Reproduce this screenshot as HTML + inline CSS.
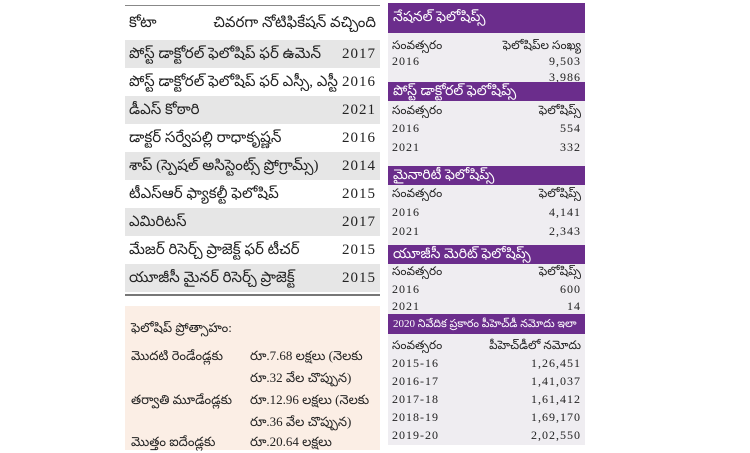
<!DOCTYPE html>
<html><head><meta charset="utf-8"><style>
body{margin:0;width:750px;height:450px;background:#fff;position:relative;overflow:hidden;font-family:"Liberation Serif","Noto Sans CJK SC",serif;color:#222}
.a{position:absolute}
.row{position:absolute;left:125px;width:255px;height:28px;font-size:15px;line-height:28px}
.row span{position:absolute;left:4px}
.row b{position:absolute;right:4px;font-weight:normal;letter-spacing:1px}
.g{background:#e6e6e6}
.rp{position:absolute;left:388px;width:197px;top:3px;height:442px;background:#efedf1}
.h{position:absolute;left:388px;width:197px;background:#6b2d8c;color:#fff;font-size:14px;padding-left:5px;box-sizing:border-box}
.r{position:absolute;left:392px;width:189px;font-size:12px;height:18px;line-height:18px}
.r span{position:absolute;left:0;letter-spacing:1px}
.r b{position:absolute;right:0;font-weight:normal;letter-spacing:1px}
</style></head><body>
<div class="a" style="left:125px;top:5px;width:255px;border-top:1px solid #888"></div>
<div class="row" style="top:6px;height:34px;line-height:34px"><span>కోటా</span><b style="letter-spacing:0">చివరగా నోటిఫికేషన్ వచ్చింది</b></div>
<div class="row g" style="top:40px"><span>పోస్ట్ డాక్టోరల్ ఫెలోషిప్ ఫర్ ఉమెన్</span><b>2017</b></div>
<div class="row" style="top:68px"><span>పోస్ట్ డాక్టోరల్ ఫెలోషిప్ ఫర్ ఎస్సీ, ఎస్టీ</span><b>2016</b></div>
<div class="row g" style="top:96px"><span>డీఎస్ కోఠారి</span><b>2021</b></div>
<div class="row" style="top:124px"><span>డాక్టర్ సర్వేపల్లి రాధాకృష్ణన్</span><b>2016</b></div>
<div class="row g" style="top:152px"><span>శాప్ (స్పెషల్ అసిస్టెంట్స్ ప్రోగ్రామ్స్)</span><b>2014</b></div>
<div class="row" style="top:180px"><span>టీఎస్ఆర్ ఫ్యాకల్టీ ఫెలోషిప్</span><b>2015</b></div>
<div class="row g" style="top:208px"><span>ఎమిరిటస్</span><b>2017</b></div>
<div class="row" style="top:236px"><span>మేజర్ రిసెర్చ్ ప్రాజెక్ట్ ఫర్ టీచర్</span><b>2015</b></div>
<div class="row g" style="top:264px"><span>యూజీసీ మైనర్ రిసెర్చ్ ప్రాజెక్ట్</span><b>2015</b></div>
<div class="a" style="left:125px;top:294px;width:255px;border-top:2px solid #777"></div>
<div class="a" style="left:125px;top:306px;width:255px;height:144px;background:#fbeee5;font-size:13px">
<div class="a" style="left:6px;top:14px">ఫెలోషిప్ ప్రోత్సాహం:</div>
<div class="a" style="left:6px;top:42px">మొదటి రెండేండ్లకు</div>
<div class="a" style="left:125px;top:42px">రూ.7.68 లక్షలు (నెలకు</div>
<div class="a" style="left:125px;top:64px">రూ.32 వేల చొప్పున)</div>
<div class="a" style="left:6px;top:86px">తర్వాతి మూడేండ్లకు</div>
<div class="a" style="left:125px;top:86px">రూ.12.96 లక్షలు (నెలకు</div>
<div class="a" style="left:125px;top:108px">రూ.36 వేల చొప్పున)</div>
<div class="a" style="left:6px;top:128px">మొత్తం ఐదేండ్లకు</div>
<div class="a" style="left:125px;top:128px">రూ.20.64 లక్షలు</div>
</div>
<div class="rp"></div>
<div class="h" style="top:3px;height:30px;line-height:30px">నేషనల్ ఫెలోషిప్స్</div>
<div class="r" style="top:36px"><span style="letter-spacing:0">సంవత్సరం</span><b style="letter-spacing:0">ఫెలోషిప్‌ల సంఖ్య</b></div>
<div class="r" style="top:52px"><span>2016</span><b>9,503</b></div>
<div class="r" style="top:68px"><b>3,986</b></div>
<div class="h" style="top:82px;height:19px;line-height:19px">పోస్ట్ డాక్టోరల్ ఫెలోషిప్స్</div>
<div class="r" style="top:101px"><span style="letter-spacing:0">సంవత్సరం</span><b style="letter-spacing:0">ఫెలోషిప్స్</b></div>
<div class="r" style="top:119px"><span>2016</span><b>554</b></div>
<div class="r" style="top:138px"><span>2021</span><b>332</b></div>
<div class="h" style="top:166px;height:19px;line-height:19px">మైనారిటీ ఫెలోషిప్స్</div>
<div class="r" style="top:184px"><span style="letter-spacing:0">సంవత్సరం</span><b style="letter-spacing:0">ఫెలోషిప్స్</b></div>
<div class="r" style="top:203px"><span>2016</span><b>4,141</b></div>
<div class="r" style="top:222px"><span>2021</span><b>2,343</b></div>
<div class="h" style="top:245px;height:19px;line-height:19px">యూజీసీ మెరిట్ ఫెలోషిప్స్</div>
<div class="r" style="top:262px"><span style="letter-spacing:0">సంవత్సరం</span><b style="letter-spacing:0">ఫెలోషిప్స్</b></div>
<div class="r" style="top:280px"><span>2016</span><b>600</b></div>
<div class="r" style="top:297px"><span>2021</span><b>14</b></div>
<div class="h" style="top:314px;height:20px;line-height:20px;font-size:11px">2020 నివేదిక ప్రకారం పీహెచ్‌డీ నమోదు ఇలా</div>
<div class="r" style="top:336px"><span style="letter-spacing:0">సంవత్సరం</span><b style="letter-spacing:0">పీహెచ్‌డీలో నమోదు</b></div>
<div class="r" style="top:354px"><span>2015-16</span><b>1,26,451</b></div>
<div class="r" style="top:372px"><span>2016-17</span><b>1,41,037</b></div>
<div class="r" style="top:390px"><span>2017-18</span><b>1,61,412</b></div>
<div class="r" style="top:408px"><span>2018-19</span><b>1,69,170</b></div>
<div class="r" style="top:426px"><span>2019-20</span><b>2,02,550</b></div>
</body></html>
